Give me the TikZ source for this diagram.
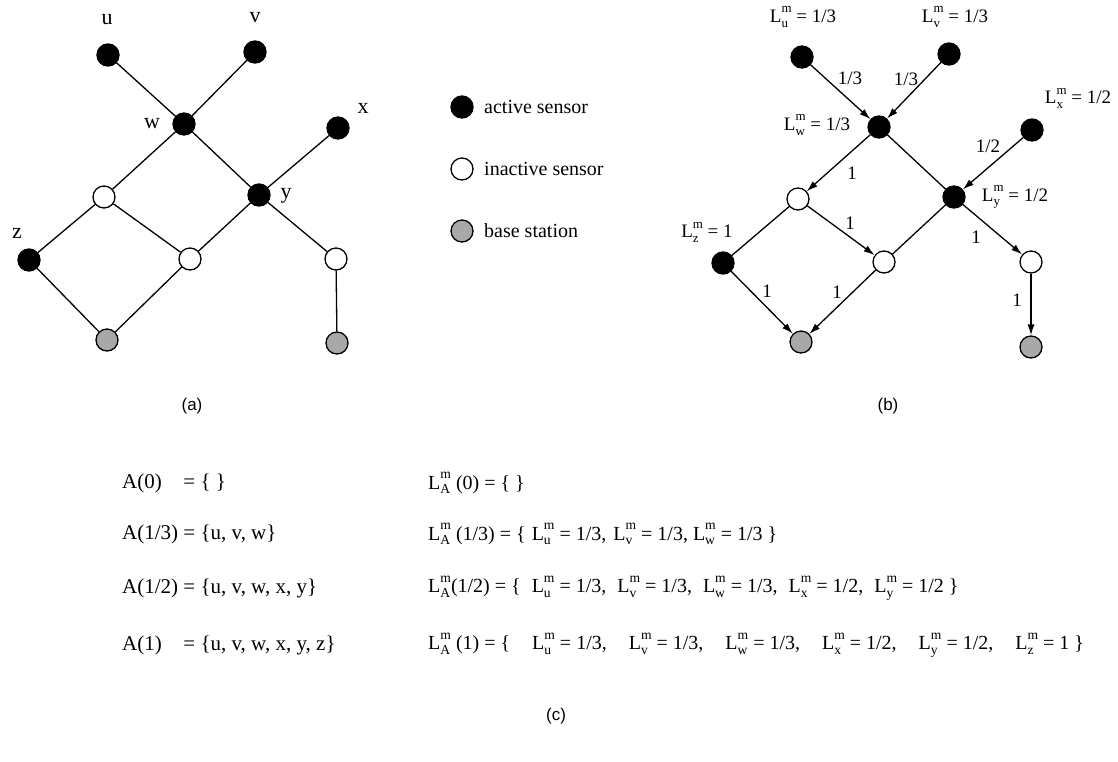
\documentclass[tikz,border=0pt]{standalone}
\usepackage{fontspec}
\setmainfont{Liberation Serif}
\setsansfont{Liberation Sans}
\usetikzlibrary{arrows.meta}
\makeatletter
\newcommand{\smf}{\fontsize{\strip@pt\dimexpr 0.68\dimexpr\f@size pt\relax\relax}{1}\selectfont}
\makeatother
\newcommand{\Lm}[1]{L\rlap{\raisebox{-0.22em}{\smf #1}}\raisebox{0.52em}{\smf m}}
\begin{document}
\begin{tikzpicture}[x=1pt,y=-1pt,
  nd/.style={circle,draw=black,line width=1.3pt,minimum size=22pt,inner sep=0pt},
  act/.style={nd,fill=black},
  inact/.style={nd,fill=white},
  bst/.style={nd,fill={rgb,255:red,168;green,168;blue,168}},
  edgeln/.style={line width=1.3pt},
  arrln/.style={line width=1.3pt,-{Latex[length=11pt,width=7pt]}},
  lbltxt/.style={font=\fontsize{22}{24}\selectfont,inner sep=0pt},
  mtxt/.style={font=\fontsize{19}{21}\selectfont,inner sep=0pt},
  elbltxt/.style={font=\fontsize{19}{21}\selectfont,inner sep=0pt},
  legtxt/.style={font=\fontsize{20}{24}\selectfont,inner sep=0pt,anchor=west},
  rowtxt/.style={font=\fontsize{21}{24}\selectfont,inner sep=0pt,anchor=west},
  rtxt/.style={font=\fontsize{20}{24}\selectfont,inner sep=0pt,anchor=west},
  captxt/.style={font=\sffamily\fontsize{17}{20}\selectfont,inner sep=0pt}]
\useasboundingbox[fill=white] (0,0) rectangle (1118,761);

% ---------- graph (a)
\node[act]   (au)  at (108,55)  {};
\node[act]   (av)  at (255,52)  {};
\node[act]   (aw)  at (184,124) {};
\node[act]   (ax)  at (338,128) {};
\node[act]   (ay)  at (259,195) {};
\node[inact] (ai1) at (104,197) {};
\node[act]   (az)  at (29,260)  {};
\node[inact] (ai2) at (190,259) {};
\node[inact] (ai3) at (336,259) {};
\node[bst]   (ab1) at (107,340) {};
\node[bst]   (ab2) at (337,343) {};
\draw[edgeln] (au) -- (aw);
\draw[edgeln] (av) -- (aw);
\draw[edgeln] (aw) -- (ai1);
\draw[edgeln] (aw) -- (ay);
\draw[edgeln] (ax) -- (ay);
\draw[edgeln] (ai1) -- (az);
\draw[edgeln] (ai1) -- (ai2);
\draw[edgeln] (ay) -- (ai2);
\draw[edgeln] (ay) -- (ai3);
\draw[edgeln] (az) -- (ab1);
\draw[edgeln] (ai2) -- (ab1);
\draw[edgeln] (ai3) -- (ab2);
\node[lbltxt] (lu) at (107,20)  {u};
\node[lbltxt] (lv) at (255,18)  {v};
\node[lbltxt] (lw) at (152,124) {w};
\node[lbltxt] (lx) at (363,108) {x};
\node[lbltxt] (ly) at (286,196) {y};
\node[lbltxt] (lz) at (17,233)  {z};

% ---------- legend
\node[act]   (g1) at (462,107) {};
\node[inact] (g2) at (462,169) {};
\node[bst]   (g3) at (462,231) {};
\node[legtxt] (t1) at (484,107) {active sensor};
\node[legtxt] (t2) at (484,169) {inactive sensor};
\node[legtxt] (t3) at (484,231) {base station};

% ---------- graph (b)
\node[act]   (bu)  at (802,57)  {};
\node[act]   (bv)  at (949,54)  {};
\node[act]   (bw)  at (879,127) {};
\node[act]   (bx)  at (1032,130) {};
\node[act]   (by)  at (954,197) {};
\node[inact] (bi1) at (798,199) {};
\node[act]   (bz)  at (723,263) {};
\node[inact] (bi2) at (884,262) {};
\node[inact] (bi3) at (1031,262) {};
\node[bst]   (bb1) at (801,342) {};
\node[bst]   (bb2) at (1031,347) {};
\draw[arrln]  (bu) -- (bw);
\draw[arrln]  (bv) -- (bw);
\draw[arrln]  (bw) -- (bi1);
\draw[edgeln] (bw) -- (by);
\draw[arrln]  (bx) -- (by);
\draw[edgeln] (bi1) -- (bz);
\draw[arrln]  (bi1) -- (bi2);
\draw[edgeln] (by) -- (bi2);
\draw[arrln]  (by) -- (bi3);
\draw[arrln]  (bz) -- (bb1);
\draw[arrln]  (bi2) -- (bb1);
\draw[arrln]  (bi3) -- (bb2);
\node[elbltxt] (e1) at (850,78)  {1/3};
\node[elbltxt] (e2) at (906,79)  {1/3};
\node[elbltxt] (e3) at (988,146) {1/2};
\node[elbltxt] (e4) at (852,173) {1};
\node[elbltxt] (e5) at (850,223) {1};
\node[elbltxt] (e6) at (976,237) {1};
\node[elbltxt] (e7) at (767,291) {1};
\node[elbltxt] (e8) at (837,292) {1};
\node[elbltxt] (e9) at (1017,300) {1};
\node[mtxt] (mu) at (803,17)  {\Lm{u} = 1/3};
\node[mtxt] (mv) at (955,17)  {\Lm{v} = 1/3};
\node[mtxt] (mx) at (1078,98) {\Lm{x} = 1/2};
\node[mtxt] (mw) at (817,125) {\Lm{w} = 1/3};
\node[mtxt] (my) at (1015,197) {\Lm{y} = 1/2};
\node[mtxt] (mz) at (707,232) {\Lm{z} = 1};

% ---------- captions
\node[captxt] (ca) at (192,406) {(a)};
\node[captxt] (cb) at (888,406) {(b)};
\node[captxt] (cc) at (556,716) {(c)};

% ---------- rows (c)
\node[rowtxt] (r1) at (122,483) {\rlap{A(0)}\phantom{A(1/3)} = \{ \}};
\node[rowtxt] (r2) at (122,534) {A(1/3) = \{u, v, w\}};
\node[rowtxt] (r3) at (122,588) {A(1/2) = \{u, v, w, x, y\}};
\node[rowtxt] (r4) at (122,645) {\rlap{A(1)}\phantom{A(1/3)} = \{u, v, w, x, y, z\}};
\node[rtxt] (s1) at (428,483) {\Lm{A} (0) = \{ \}};
\node[rtxt] (s2) at (428,534) {\Lm{A} (1/3) = \{\hspace{0.3em}\Lm{u} = 1/3,\hspace{0.35em}\Lm{v} = 1/3,\hspace{0.25em}\Lm{w} = 1/3 \}};
\node[rtxt] (s3) at (428,588) {\Lm{A}(1/2) = \{\hspace{0.55em}\Lm{u} = 1/3,\hspace{0.55em}\Lm{v} = 1/3,\hspace{0.55em}\Lm{w} = 1/3,\hspace{0.55em}\Lm{x} = 1/2,\hspace{0.55em}\Lm{y} = 1/2 \}};
\node[rtxt] (s4) at (428,645) {\Lm{A} (1) = \{\hspace{1.1em}\Lm{u} = 1/3,\hspace{1.1em}\Lm{v} = 1/3,\hspace{1.1em}\Lm{w} = 1/3,\hspace{1.1em}\Lm{x} = 1/2,\hspace{1.1em}\Lm{y} = 1/2,\hspace{1.1em}\Lm{z} = 1 \}};
\end{tikzpicture}
\end{document}
